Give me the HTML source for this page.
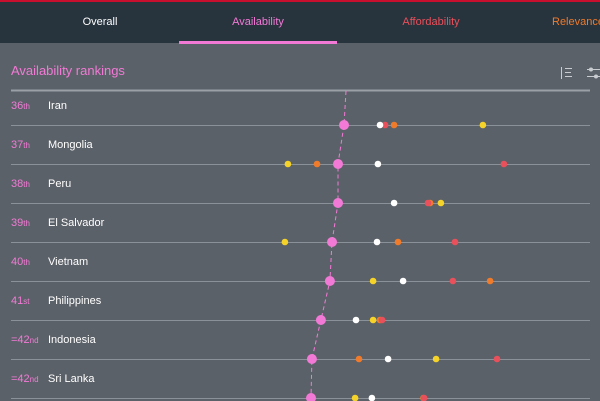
<!DOCTYPE html>
<html><head><meta charset="utf-8">
<style>
html,body{margin:0;padding:0;width:600px;height:401px;overflow:hidden;background:#5b6168;font-family:"Liberation Sans",sans-serif}
svg{display:block}
</style></head><body>
<svg width="600" height="401">
<rect x="0" y="0" width="600" height="43" fill="#27333d"/>
<rect x="0" y="0" width="600" height="2" fill="#c8102e"/>
<text x="100" y="25" fill="#ffffff" font-size="11" text-anchor="middle">Overall</text>
<text x="258" y="25" fill="#f27ad6" font-size="11" text-anchor="middle">Availability</text>
<text x="431" y="25" fill="#e8505b" font-size="11" text-anchor="middle">Affordability</text>
<text x="578" y="25" fill="#f07b2a" font-size="11" text-anchor="middle">Relevance</text>
<rect x="179" y="41" width="158" height="3" fill="#f27ad6"/>
<text x="11" y="75" fill="#f27ad6" font-size="13">Availability rankings</text>
<g stroke="#c9cdd1" stroke-width="1" fill="none">
<line x1="561.5" y1="67" x2="561.5" y2="79"/><line x1="565" y1="68.5" x2="572" y2="68.5"/><line x1="565" y1="72.5" x2="571" y2="72.5"/><line x1="565" y1="76.5" x2="572" y2="76.5"/>
</g>
<g stroke="#c9cdd1" stroke-width="1" fill="none">
<line x1="587" y1="69.5" x2="600" y2="69.5"/><line x1="587" y1="76.5" x2="600" y2="76.5"/><circle cx="591" cy="69.5" r="1.5" fill="#c9cdd1"/><circle cx="596" cy="76.5" r="1.5" fill="#c9cdd1"/>
</g>
<line x1="11" y1="90.5" x2="590" y2="90.5" stroke="#9aa0a6" stroke-width="2"/>
<g id="rows"></g>
</svg>
<script>
const ranks=["36","37","38","39","40","41","42","42"];
const suffixes=["th","th","th","th","th","st","nd","nd"];
const tied=[false,false,false,false,false,false,true,true];
const countries=["Iran","Mongolia","Peru","El Salvador","Vietnam","Philippines","Indonesia","Sri Lanka"];
const availability=[48,46,46,44,43.3,40.3,37.3,37];
const overallScore=[60,59.3,64.7,59,67.7,52,62.7,57.3];
const affordability=[61.7,101.3,76,85,84.3,60.7,99,74.7];
const relevance=[64.7,39,76.7,66,96.7,60,53,74.5];
const readiness=[94.3,29.3,80.3,28.3,57.7,57.7,78.7,51.7];

const svgNS="http://www.w3.org/2000/svg";
const g=document.getElementById('rows');
const xS=v=>200+v*3;
const yRow=i=>125+i*39;
function mk(t,a){const e=document.createElementNS(svgNS,t);for(const k in a)e.setAttribute(k,a[k]);g.appendChild(e);return e;}
let pts=[[xS(availability[0])+2,91]];
availability.forEach((v,i)=>pts.push([xS(v),yRow(i)]));
const pl=mk('polyline',{points:pts.map(p=>p.join(',')).join(' '),fill:'none',stroke:'#f27ad6','stroke-width':1,'stroke-dasharray':'4,3'});


countries.forEach((c,i)=>{
  const y=yRow(i);
  const ln=mk('line',{x1:11,x2:590,y1:y+0.5,y2:y+0.5,stroke:'#8b9198','stroke-width':1});
  
  
  const rt=mk('text',{x:11,y:y-16,fill:'#f27ad6','font-size':11});
  
  
  rt.textContent=(tied[i]?'=':'')+ranks[i];
  const sp=document.createElementNS(svgNS,'tspan');sp.setAttribute('font-size','8');sp.textContent=suffixes[i];rt.appendChild(sp);
  const nt=mk('text',{x:48,y:y-16,fill:'#ffffff','font-size':11});
  
  
  nt.textContent=c;
  const series=[[readiness,'#f5d328','readiness-dot'],[relevance,'#f07b2a','relevance-dot'],[affordability,'#e8505b','affordability-dot'],[overallScore,'#ffffff','overall-dot']];
  series.forEach(s=>{
    const d=mk('circle',{cx:xS(s[0][i]),cy:y,r:3.3,fill:s[1]});
    
    
  });
  const p=mk('circle',{cx:xS(availability[i]),cy:y,r:5,fill:'#f27ad6'});
  
  
});
</script>
</body></html>
